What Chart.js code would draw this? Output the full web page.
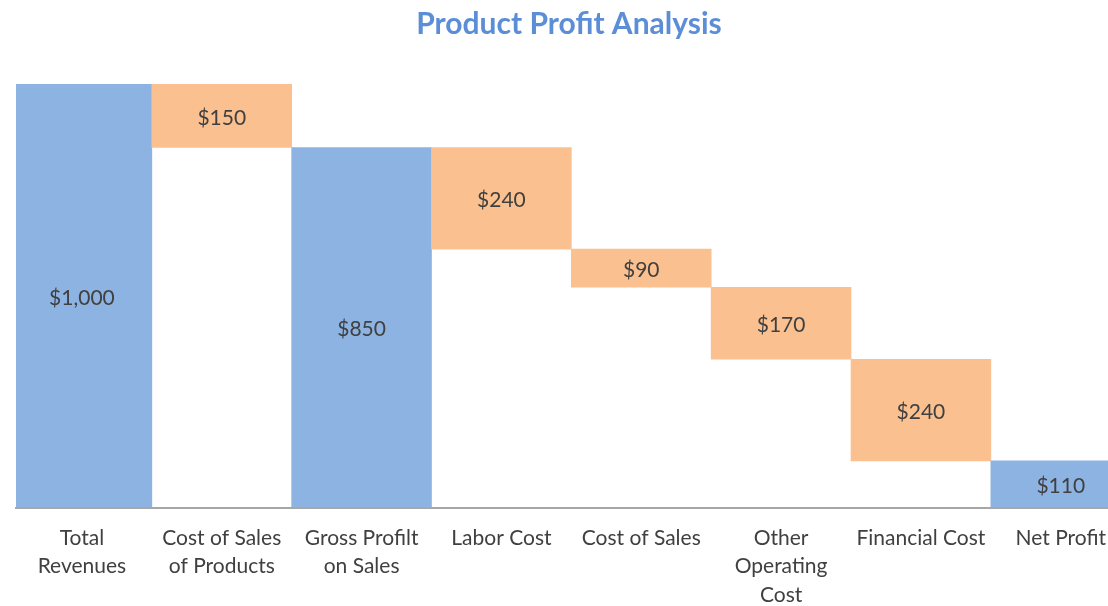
<!DOCTYPE html>
<html>
<head>
<meta charset="utf-8">
<script src="https://cdn.jsdelivr.net/npm/chart.js@4"></script>
<style>
  html, body { margin: 0; padding: 0; background: #fff; overflow: hidden; }
  #wrap { position: relative; width: 1122px; height: 625px; }
</style>
</head>
<body>
<div id="wrap"><canvas id="profitChart"></canvas></div>
<script>
const categories = [
    ["Total", "Revenues"],
    ["Cost of Sales", "of Products"],
    ["Gross Profilt", "on Sales"],
    ["Labor Cost"],
    ["Cost of Sales"],
    ["Other", "Operating", "Cost"],
    ["Financial Cost"],
    ["Net Profit"]
];
const amounts = [1000, 150, 850, 240, 90, 170, 240, 110];
const kinds = ["total", "cost", "total", "cost", "cost", "cost", "cost", "total"];

const totalColor = "#8db3e2";
const costColor = "#fac090";

// waterfall: totals stand on zero, costs hang down from the running level
let level = 0;
const ranges = amounts.map((v, i) => {
    if (kinds[i] === "total") {
        level = v;
        return [0, v];
    }
    const r = [level - v, level];
    level -= v;
    return r;
});

const barLabels = {
    id: "barLabels",
    afterDatasetsDraw(chart) {
        const ctx = chart.ctx;
        const meta = chart.getDatasetMeta(0);
        ctx.save();
        ctx.font = "21px Lato";
        ctx.fillStyle = "#404040";
        ctx.textAlign = "center";
        ctx.textBaseline = "middle";
        meta.data.forEach((bar, i) => {
            const p = bar.getCenterPoint();
            ctx.fillText("$" + amounts[i].toLocaleString("en-US"), p.x, p.y + 2);
        });
        ctx.restore();
    }
};

const ctx = document.getElementById("profitChart").getContext("2d");
new Chart(ctx, {
    type: "bar",
    data: {
        datasets: [{
            data: ranges.map((r, i) => ({x: i, y: r})),
            backgroundColor: kinds.map(k => k === "total" ? totalColor : costColor),
            borderWidth: 0,
            barPercentage: 1,
            categoryPercentage: 1
        }]
    },
    plugins: [barLabels],
    options: {
        responsive: true,
        maintainAspectRatio: false,
        animation: false,
        layout: {padding: {left: 16, right: 0, top: 0, bottom: 0}},
        plugins: {
            legend: {display: false},
            tooltip: {enabled: false},
            title: {
                display: true,
                text: "Product Profit Analysis",
                color: "#5b8ed6",
                font: {family: "Lato", size: 30, weight: "bold"},
                padding: {top: 6, bottom: 42}
            }
        },
        scales: {
            x: {
                type: "linear",
                offset: false,
                min: -0.4714,
                max: 7.4286,
                grid: {display: false, drawTicks: false},
                border: {display: true, color: "#a6a6a6", width: 2},
                ticks: {
                    stepSize: 1,
                    includeBounds: false,
                    autoSkip: false,
                    maxRotation: 0,
                    padding: 16,
                    color: "#404040",
                    font: {family: "Lato", size: 21, lineHeight: 1.357},
                    callback: v => Number.isInteger(v) ? categories[v] : ""
                }
            },
            y: {display: false, min: 0, max: 1000}
        }
    }
});
</script>
</body>
</html>
